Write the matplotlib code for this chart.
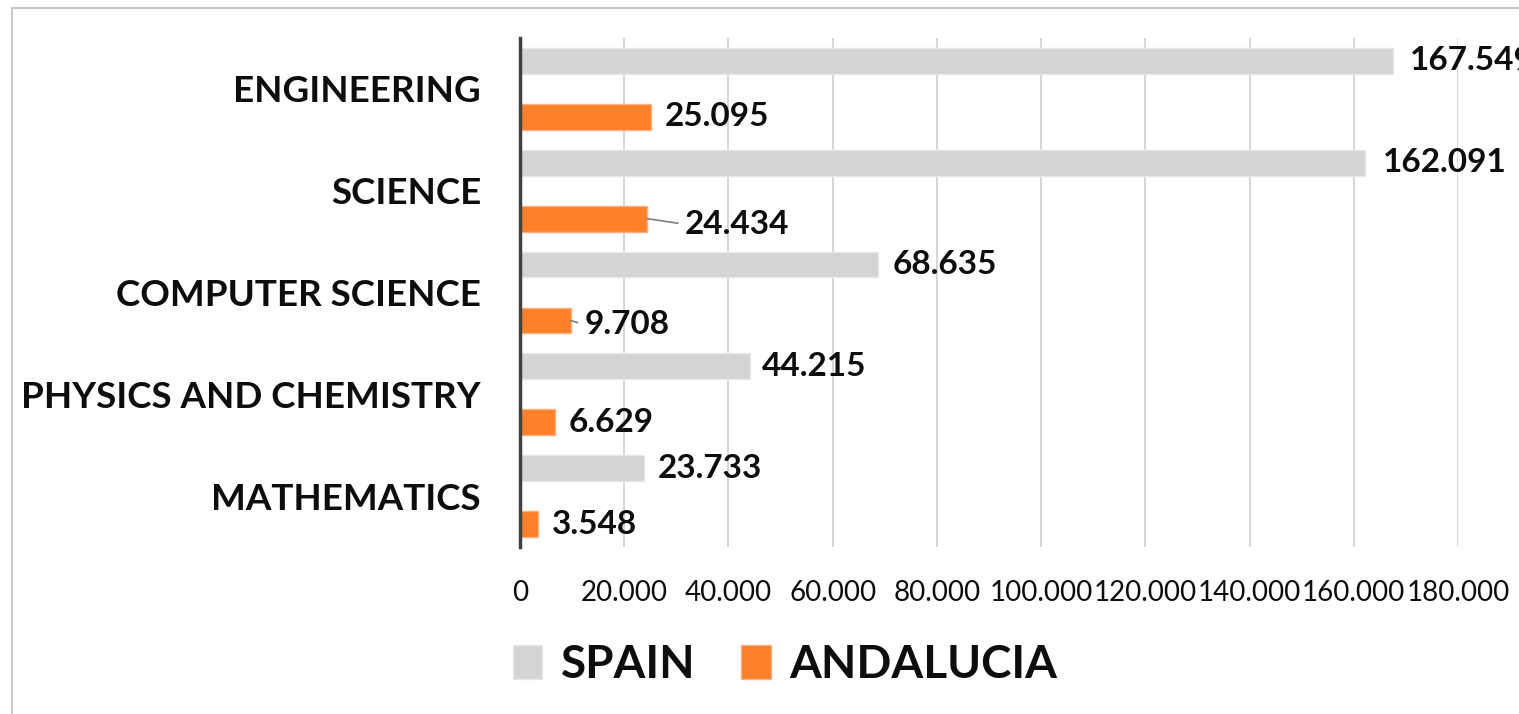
import matplotlib
matplotlib.use("Agg")
import matplotlib.pyplot as plt
from matplotlib.patches import Patch, Rectangle
import numpy as np

categories = ["ENGINEERING", "SCIENCE", "COMPUTER SCIENCE", "PHYSICS AND CHEMISTRY", "MATHEMATICS"]
spain = [167549, 162091, 68635, 44215, 23733]
andalucia = [25095, 24434, 9708, 6629, 3548]
x_ticks = [0, 20000, 40000, 60000, 80000, 100000, 120000, 140000, 160000, 180000]
series_names = ["SPAIN", "ANDALUCIA"]

GREY = "#d4d4d4"
ORANGE = "#fe8029"
FONT = "Lato"

def fmt(v):
    return f"{v:,}".replace(",", ".")

fig = plt.figure(figsize=(15.19, 7.14), dpi=100)
ax = fig.add_axes([520/1519, 1-547/714, (1458-520)/1519, (547-38)/714])

y = np.arange(len(categories))
off = 0.275
h = 0.255
ax.barh(y - off, spain, height=h, color=GREY, edgecolor="#e8e8e8", linewidth=1, zorder=2)
ax.barh(y + off, andalucia, height=h, color=ORANGE, edgecolor="#ffb080", linewidth=1, zorder=2)

ax.set_xlim(0, 180000)
ax.set_ylim(len(categories) - 0.5, -0.5)
ax.set_xticks(x_ticks)
ax.set_xticklabels([fmt(t) for t in x_ticks], fontsize=20, family=FONT, color="#0d0d0d")
ax.set_yticks(y)
ax.set_yticklabels(categories, fontsize=26.5, family=FONT, fontweight="bold", color="#0d0d0d")
ax.tick_params(axis="both", length=0)
ax.tick_params(axis="x", pad=24)
ax.tick_params(axis="y", pad=28)
ax.grid(axis="x", color="#cfcfcf", linewidth=1.2, zorder=0)
for s in ["top", "right", "bottom"]:
    ax.spines[s].set_visible(False)
ax.spines["left"].set_color("#404040")
ax.spines["left"].set_linewidth(2.5)
ax.spines["left"].set_zorder(3)

LBL = 24
# spain labels
sp_off = [(12, 0), (13, 0), (11, 0), (8, 0), (10, 0)]
for i, v in enumerate(spain):
    ax.annotate(fmt(v), xy=(v, y[i] - off), xytext=sp_off[i], textcoords="offset points",
                ha="left", va="center", fontsize=LBL, family=FONT, fontweight="bold",
                color="#0d0d0d", annotation_clip=False)
an_off = [(10, 0), (27, -4), (10, -3), (10, 0), (10, 0)]
leader = [False, True, True, False, False]
for i, v in enumerate(andalucia):
    kw = {}
    if leader[i]:
        kw["arrowprops"] = dict(arrowstyle="-", color="#7f7f7f", lw=1.2, shrinkA=3, shrinkB=0,
                                relpos=(0, 0.5))
    ax.annotate(fmt(v), xy=(v, y[i] + off), xytext=an_off[i], textcoords="offset points",
                ha="left", va="center", fontsize=LBL, family=FONT, fontweight="bold",
                color="#0d0d0d", annotation_clip=False, **kw)

handles = [Patch(facecolor=GREY, edgecolor="#e8e8e8"), Patch(facecolor=ORANGE, edgecolor="#ffb080")]
leg = fig.legend(handles, series_names, loc="center", bbox_to_anchor=(785/1519, 1-665/714),
                 ncol=2, frameon=False, prop={"family": FONT, "weight": "bold", "size": 33},
                 handlelength=0.65, handleheight=0.75, handletextpad=0.4, columnspacing=1.0)
for t in leg.get_texts():
    t.set_color("#0d0d0d")

fig.add_artist(Rectangle((12/1519, -0.1), 1.2, 1.1 - 8/714 + 0.0, transform=fig.transFigure,
                         fill=False, edgecolor="#c8c8c8", linewidth=1.5))

fig.savefig("out.png", dpi=100)
